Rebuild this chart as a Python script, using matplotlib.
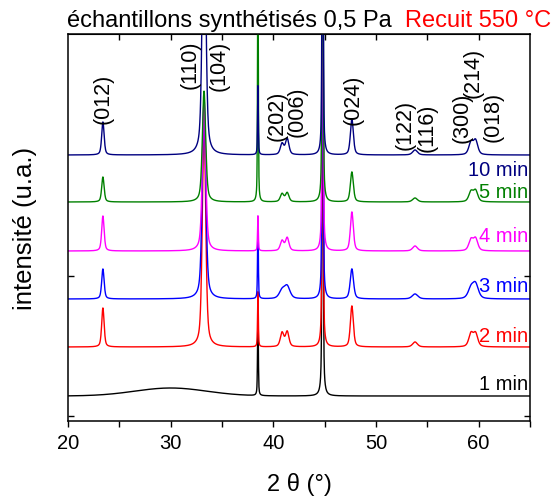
import numpy as np
import matplotlib
matplotlib.use("Agg")
import matplotlib.pyplot as plt

plt.rcParams['font.family'] = ['Liberation Sans', 'DejaVu Sans']

# Peak table (2theta in degrees, widths = FWHM in degrees)
peak_pos = [23.4, 33.25, 38.5, 40.85, 41.35, 44.8, 47.65, 53.8, 59.25, 59.7]
peak_fwhm = [0.28, 0.38, 0.09, 0.4, 0.4, 0.12, 0.34, 0.55, 0.5, 0.5]
peak_fwhm_3min = [0.28, 0.4, 0.09, 0.65, 0.65, 0.12, 0.38, 0.65, 0.65, 0.65]

# Sample names, vertical offsets and peak heights (arbitrary units)
samples = ['1 min', '2 min', '3 min', '4 min', '5 min', '10 min']
colors = ['black', 'red', 'blue', 'magenta', 'green', 'navy']
offsets = [25, 74, 122, 170, 219, 266]
heights_1 = [0, 0, 87, 0, 0, 450, 0, 0, 0, 0]
heights_2 = [39, 230, 55, 14, 15, 450, 41, 5, 13, 13]
heights_3 = [30, 200, 80, 8, 12, 450, 30, 5, 10, 14]
heights_4 = [35, 150, 35, 10, 13, 450, 39, 5, 11, 12]
heights_5 = [25, 111, 250, 8, 9, 450, 30, 4, 10, 11]
heights_10 = [33, 300, 69, 11, 16, 450, 36, 5, 12, 14]
heights = [heights_1, heights_2, heights_3, heights_4, heights_5, heights_10]
widths = [peak_fwhm, peak_fwhm, peak_fwhm_3min, peak_fwhm, peak_fwhm, peak_fwhm]

# amorphous hump of the 1 min sample
hump_pos, hump_height, hump_sigma = 30.0, 8, 3.5

# Miller index labels: (2theta, height, text)
hkl_x = [23.4, 31.9, 34.7, 40.35, 42.3, 47.8, 52.8, 55.0, 58.4, 59.5, 61.4]
hkl_y = [323, 357, 356, 306, 310, 322, 297, 294, 304, 349, 305]
hkl_txt = ['(012)', '(110)', '(104)', '(202)', '(006)', '(024)',
           '(122)', '(116)', '(300)', '(214)', '(018)']
label_y = [38, 85, 135, 185, 230, 252]


def pattern(x, h, w):
    # pseudo-Voigt peaks, half Lorentzian / half Gaussian
    y = np.zeros_like(x)
    for c, hh, ww in zip(peak_pos, h, w):
        u = (x - c) / (ww / 2)
        y += hh * (0.5 / (1 + u ** 2) + 0.5 * np.exp(-np.log(2) * u ** 2))
    return y


x = np.arange(20, 65.001, 0.02)

fig = plt.figure(figsize=(5.55, 5.02), dpi=100)
ax = fig.add_axes([68 / 555, 80 / 502, 462 / 555, 387 / 502])

for i, name in enumerate(samples):
    y = offsets[i] + pattern(x, heights[i], widths[i])
    if name == '1 min':
        y += hump_height * np.exp(-0.5 * ((x - hump_pos) / hump_sigma) ** 2)
    ax.plot(x, y, color=colors[i], lw=1.0)
    ax.text(64.8, label_y[i], name, color=colors[i], fontsize=14.5,
            ha='right', va='center')

for hx, hy, t in zip(hkl_x, hkl_y, hkl_txt):
    ax.text(hx, hy, t, rotation=90, fontsize=15.5, ha='center', va='center')

ax.set_xlim(20, 65)
ax.set_ylim(0, 387)
ax.set_xticks([20, 30, 40, 50, 60])
ax.set_xticks([25, 35, 45, 55, 65], minor=True)
ax.tick_params(axis='x', which='both', direction='out', length=4, width=1,
               labelsize=14.5, pad=5)
ax.set_yticks([5, 145])
ax.tick_params(axis='y', direction='in', left=True, right=True,
               labelleft=False, length=4, width=1)
top = ax.secondary_xaxis('top')
top.set_xticks([25, 30, 35, 40, 45, 50, 55, 60])
top.tick_params(direction='in', length=4, width=1, labeltop=False)
for s in ax.spines.values():
    s.set_linewidth(1.1)

ax.set_xlabel('2 θ (°)', fontsize=17, labelpad=14)
ax.set_ylabel('intensité (u.a.)', fontsize=18.5, labelpad=22)

fig.text(67 / 555, 1 - 21 / 502, 'échantillons synthétisés 0,5 Pa',
         fontsize=17, ha='left', va='center')
fig.text(405 / 555, 1 - 21 / 502, 'Recuit 550 °C', color='red',
         fontsize=17, ha='left', va='center')

fig.savefig('out.png', dpi=100)
